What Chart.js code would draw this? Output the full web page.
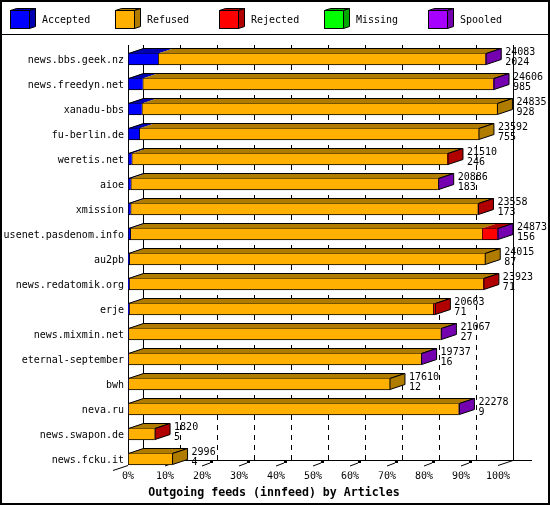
<!DOCTYPE html>
<html>
<head>
<meta charset="utf-8">
<script src="https://cdn.jsdelivr.net/npm/chart.js@4/dist/chart.umd.min.js"></script>
<style>
  html, body { margin: 0; padding: 0; background: #fff; }
  #wrap { width: 550px; height: 505px; }
</style>
</head>
<body>
<div id="wrap"><canvas id="c" width="550" height="505"></canvas></div>
<script>
// ---- data (articles) ----
const hosts = ['news.bbs.geek.nz','news.freedyn.net','xanadu-bbs','fu-berlin.de','weretis.net','aioe','xmission','usenet.pasdenom.info','au2pb','news.redatomik.org','erje','news.mixmin.net','eternal-september','bwh','neva.ru','news.swapon.de','news.fcku.it'];
const offered  = [24083,24606,24835,23592,21510,20886,23558,24873,24015,23923,20663,21067,19737,17610,22278,1820,2996];
const accepted = [2024,985,928,755,246,183,173,156,87,71,71,27,16,12,9,5,4];
const refused  = [21999,23561,23907,22837,21204,20653,23325,23637,23928,23792,20442,20990,19671,17598,22209,1795,2992];
const rejected = [0,0,0,0,60,0,60,1030,0,60,150,0,0,0,0,20,0];
const missing  = [0,0,0,0,0,0,0,0,0,0,0,0,0,0,0,0,0];
const spooled  = [60,60,0,0,0,50,0,50,0,0,0,50,50,0,60,0,0];
const seriesNames = ['Accepted','Refused','Rejected','Missing','Spooled'];
const xTickValues = [0,10,20,30,40,50,60,70,80,90,100];
const axisTitle = 'Outgoing feeds (innfeed) by Articles';

// ---- styles ----
const frontColors = ['#0000ff','#ffb000','#ff0000','#00ff00','#a800ff'];
const darkColors  = ['#0000b0','#b07c00','#b00000','#00a800','#7400b0'];
const FONT = '"DejaVu Sans Mono", "Liberation Mono", monospace';
const DX = 15, DY = 5, BAR_T = 12;

const maxTotal = Math.max(...offered);
const toPct = arr => arr.map(v => v / maxTotal * 100);
const seriesData = [accepted, refused, rejected, missing, spooled];

const deco = {
  id: 'deco',
  beforeDatasetsDraw(chart) {
    const ctx = chart.ctx;
    const xs = chart.scales.x, ys = chart.scales.y, ca = chart.chartArea;
    const n = hosts.length;
    const frontBottom = ys.getPixelForValue(n - 1) + BAR_T / 2;
    const backBottom = frontBottom - DY;
    const top = ca.top - 1.5;
    const x0 = xs.getPixelForValue(0), x100 = xs.getPixelForValue(100);
    ctx.save();
    ctx.strokeStyle = '#000'; ctx.fillStyle = '#000'; ctx.lineWidth = 1;
    // dashed back grid
    ctx.setLineDash([5, 5]);
    for (let v = 10; v < 100; v += 10) {
      const x = Math.round(xs.getPixelForValue(v) + DX) + 0.5;
      ctx.beginPath(); ctx.moveTo(x, top); ctx.lineTo(x, backBottom); ctx.stroke();
    }
    ctx.setLineDash([]);
    // back walls
    ctx.beginPath();
    ctx.moveTo(Math.round(x0 + DX) + 0.5, top); ctx.lineTo(Math.round(x0 + DX) + 0.5, backBottom);
    ctx.moveTo(Math.round(x100 + DX) + 0.5, top); ctx.lineTo(Math.round(x100 + DX) + 0.5, backBottom);
    // front left axis
    ctx.moveTo(Math.round(x0) + 0.5, top); ctx.lineTo(Math.round(x0) + 0.5, frontBottom);
    // floor back line
    ctx.moveTo(x0 + DX, backBottom + 0.5); ctx.lineTo(x100 + DX + 19, backBottom + 0.5);
    // floor edges
    ctx.moveTo(x100, frontBottom + 0.5); ctx.lineTo(x100 + DX, backBottom + 0.5);
    ctx.moveTo(x0 - DX, frontBottom + DY + 0.5); ctx.lineTo(x0, frontBottom + 0.5);
    ctx.stroke();
    // 3D tick marks
    for (let v = 10; v < 100; v += 10) {
      const x = xs.getPixelForValue(v);
      ctx.beginPath(); ctx.moveTo(x, frontBottom + 1); ctx.lineTo(x + 8, frontBottom - 2); ctx.stroke();
      ctx.fillRect(x + 8, backBottom + 0.5, 3, 2.5);
    }
    ctx.restore();
  },
  beforeDraw(chart) {
    const ctx = chart.ctx;
    const W = chart.width, H = chart.height;
    ctx.save();
    ctx.fillStyle = '#fff'; ctx.fillRect(0, 0, W, H);
    ctx.strokeStyle = '#000'; ctx.lineWidth = 2;
    ctx.strokeRect(1, 1, W - 2, H - 2);
    ctx.fillStyle = '#000'; ctx.fillRect(0, 34, W, 1);
    // legend
    ctx.lineWidth = 1;
    ctx.font = '10px ' + FONT;
    ctx.textBaseline = 'alphabetic'; ctx.textAlign = 'left';
    seriesNames.forEach((name, i) => {
      const bx = Math.round(10 + i * 104.5) + 0.5, by = 10.5, w = 19, h = 18, dx = 6, dy = 2;
      ctx.fillStyle = frontColors[i]; ctx.fillRect(bx, by, w, h);
      ctx.strokeStyle = '#000'; ctx.strokeRect(bx, by, w, h);
      ctx.fillStyle = darkColors[i];
      ctx.beginPath(); ctx.moveTo(bx, by); ctx.lineTo(bx + dx, by - dy); ctx.lineTo(bx + w + dx, by - dy); ctx.lineTo(bx + w, by); ctx.closePath(); ctx.fill(); ctx.stroke();
      ctx.beginPath(); ctx.moveTo(bx + w, by); ctx.lineTo(bx + w + dx, by - dy); ctx.lineTo(bx + w + dx, by + h - dy); ctx.lineTo(bx + w, by + h); ctx.closePath(); ctx.fill(); ctx.stroke();
      ctx.fillStyle = '#000';
      ctx.fillText(name, Math.round(10 + i * 104.5) + 32, 23);
    });
    ctx.restore();
  },
  afterDatasetsDraw(chart) {
    const ctx = chart.ctx;
    const n = hosts.length;
    const metas = chart.data.datasets.map((d, i) => chart.getDatasetMeta(i));
    ctx.save();
    ctx.lineWidth = 1; ctx.strokeStyle = '#000';
    for (let r = 0; r < n; r++) {
      const segs = [];
      metas.forEach((m, di) => {
        const p = m.data[r].getProps(['x', 'y', 'base', 'height'], true);
        const a = Math.min(p.x, p.base), b = Math.max(p.x, p.base);
        if (b - a > 0.01) segs.push({ a, b, y: p.y, h: p.height, di });
      });
      if (!segs.length) continue;
      const cy = segs[0].y, yTop = cy - segs[0].h / 2, yBot = cy + segs[0].h / 2;
      segs.forEach(s => {
        ctx.fillStyle = darkColors[s.di];
        ctx.beginPath();
        ctx.moveTo(s.a, yTop + 0.5); ctx.lineTo(s.b, yTop + 0.5);
        ctx.lineTo(s.b + DX, yTop - DY + 0.5); ctx.lineTo(s.a + DX, yTop - DY + 0.5);
        ctx.closePath(); ctx.fill();
      });
      const L = segs[0].a, R = segs[segs.length - 1].b;
      ctx.beginPath();
      ctx.moveTo(L + 0.5, yTop + 0.5); ctx.lineTo(L + DX + 0.5, yTop - DY + 0.5);
      ctx.lineTo(R + DX, yTop - DY + 0.5); ctx.lineTo(R, yTop + 0.5);
      ctx.stroke();
      const last = segs[segs.length - 1];
      ctx.fillStyle = darkColors[last.di];
      ctx.beginPath();
      ctx.moveTo(R, yTop + 0.5); ctx.lineTo(R + DX, yTop - DY + 0.5);
      ctx.lineTo(R + DX, yBot - DY - 0.5); ctx.lineTo(R, yBot - 0.5);
      ctx.closePath(); ctx.fill(); ctx.stroke();
      // value labels
      ctx.fillStyle = '#000';
      ctx.font = '10px ' + FONT;
      ctx.textAlign = 'left'; ctx.textBaseline = 'alphabetic';
      ctx.fillText(String(offered[r]), R + DX + 4, cy - 4);
      ctx.fillText(String(accepted[r]), R + DX + 4, cy + 6);
    }
    // axis title
    ctx.font = 'bold 11.6px ' + FONT;
    ctx.textAlign = 'center';
    ctx.fillText(axisTitle, 274, 495.5);
    ctx.restore();
  }
};

new Chart(document.getElementById('c'), {
  type: 'bar',
  data: {
    labels: hosts,
    datasets: seriesData.map((arr, i) => ({
      label: seriesNames[i],
      data: toPct(arr),
      backgroundColor: frontColors[i],
      borderColor: '#000',
      borderWidth: { top: 1, bottom: 1, left: 1, right: 0 },
      borderSkipped: false,
      barThickness: BAR_T
    }))
  },
  options: {
    indexAxis: 'y',
    responsive: false,
    animation: false,
    devicePixelRatio: 1,
    layout: { padding: { left: 0, right: 52, top: 46.5, bottom: 0 } },
    plugins: { legend: { display: false }, tooltip: { enabled: false }, title: { display: false } },
    scales: {
      x: {
        stacked: true, min: 0, max: 100,
        afterBuildTicks: s => { s.ticks = xTickValues.map(v => ({ value: v })); },
        grid: { display: false, drawTicks: false },
        border: { display: false },
        ticks: { color: '#000', font: { family: FONT, size: 10, lineHeight: 1 }, padding: 0, maxRotation: 0, autoSkip: false, callback: v => v + '%' },
        afterFit: s => { s.height = 33.5; }
      },
      y: {
        stacked: true,
        grid: { display: false, drawTicks: false },
        border: { display: false },
        ticks: { color: '#000', font: { family: FONT, size: 10 }, padding: 4, labelOffset: 1, autoSkip: false },
        afterFit: s => { s.width = 128; }
      }
    }
  },
  plugins: [deco]
});
</script>
</body>
</html>
